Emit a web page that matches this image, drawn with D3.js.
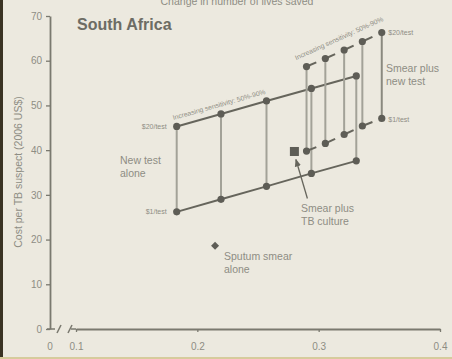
<!DOCTYPE html>
<html><head><meta charset="utf-8">
<script src="https://cdn.jsdelivr.net/npm/d3@7"></script>
<style>
html,body{margin:0;padding:0;background:#ECE9DF;}
svg{display:block;font-family:"Liberation Sans",Arial,sans-serif;}
</style></head><body>
<svg id="c" width="452" height="359"></svg>
<script>
// ---- data ----
const yTicks = [0,10,20,30,40,50,60,70];
const xTicks = [0.1,0.2,0.3,0.4];
const newTestX = [0.183,0.2195,0.257,0.294,0.331];
const newTest20 = [45.3,48.1,51.0,53.8,56.6];
const newTest1 = [26.2,29.0,31.9,34.8,37.6];
const smearNewX = [0.290,0.3055,0.321,0.336,0.352];
const smearNew20 = [58.7,60.5,62.4,64.3,66.3];
const smearNew1 = [39.8,41.5,43.5,45.4,47.1];
const smearCulture = [0.280,39.7];
const sputumSmear = [0.2146,18.6];

const svg = d3.select("#c");
const W=452,H=359;
svg.append("rect").attr("width",W).attr("height",H).attr("fill","#ECE9DF");
svg.append("rect").attr("x",0).attr("y",0).attr("width",3).attr("height",H).attr("fill","#3a3324");
svg.append("rect").attr("x",0).attr("y",357).attr("width",W).attr("height",2).attr("fill","#d6cb9c");

const y = d3.scaleLinear().domain([0,70]).range([329,16]);
const x = d3.scaleLinear().domain([0.1,0.4]).range([76,440]);
const xZero = 50;

const axisCol="#7a796f", textCol="#8e8d84", lineCol="#66655c", vCol="#a3a298", dotCol="#5e5d56";

// title (clipped at the top edge, as in the reference)
svg.append("text").attr("x",237).attr("y",5).attr("text-anchor","middle")
  .attr("font-size",10.5).attr("fill",textCol).text("Change in number of lives saved");

// y axis
const gy = svg.append("g").attr("transform",`translate(${xZero},0)`)
  .call(d3.axisLeft(y).tickValues(yTicks).tickSize(4).tickSizeOuter(0).tickPadding(4));
gy.select(".domain").attr("stroke",axisCol).attr("stroke-width",1.8);
gy.selectAll(".tick line").attr("stroke",axisCol).attr("stroke-width",1.3);
gy.selectAll(".tick text").attr("fill",textCol).attr("font-size",10).attr("font-family","Liberation Sans, Arial, sans-serif");

// x axis
const gx = svg.append("g").attr("transform",`translate(0,${y(0)})`)
  .call(d3.axisBottom(x).tickValues(xTicks).tickSize(3).tickSizeOuter(0).tickPadding(10.5).tickFormat(d3.format(".1f")));
gx.select(".domain").attr("stroke",axisCol).attr("stroke-width",1.8);
gx.selectAll(".tick line").attr("stroke",axisCol).attr("stroke-width",1.3);
gx.selectAll(".tick text").attr("fill",textCol).attr("font-size",10).attr("font-family","Liberation Sans, Arial, sans-serif");
// broken part near 0
const y0=y(0);
const brk = svg.append("g").attr("stroke",axisCol).attr("stroke-width",1.5).attr("fill","none");
brk.append("line").attr("x1",xZero-3).attr("x2",xZero+5).attr("y1",y0).attr("y2",y0);
brk.append("line").attr("x1",57).attr("x2",61).attr("y1",y0+4).attr("y2",y0-4);
brk.append("line").attr("x1",68).attr("x2",72).attr("y1",y0+4).attr("y2",y0-4);
brk.append("line").attr("x1",71).attr("x2",x(0.1)).attr("y1",y0).attr("y2",y0);
svg.append("text").attr("x",xZero).attr("y",y0+20.6).attr("text-anchor","middle")
  .attr("font-size",10).attr("fill",textCol).text("0");

// y label
svg.append("text").attr("transform",`translate(22,${172}) rotate(-90)`).attr("text-anchor","middle")
  .attr("font-size",10.5).attr("fill",textCol).text("Cost per TB suspect (2006 US$)");

// heading
svg.append("text").attr("x",77).attr("y",30).attr("font-size",16).attr("font-weight","bold")
  .attr("fill","#6d6c64").text("South Africa");

// ---- New test alone ----
const nt = newTestX.map((v,i)=>({x:v,hi:newTest20[i],lo:newTest1[i]}));
svg.append("g").selectAll("line").data(nt).join("line")
  .attr("x1",d=>x(d.x)).attr("x2",d=>x(d.x)).attr("y1",d=>y(d.hi)).attr("y2",d=>y(d.lo))
  .attr("stroke",vCol).attr("stroke-width",2);
const ln = d3.line().x(d=>x(d[0])).y(d=>y(d[1]));
svg.append("path").attr("d",ln(nt.map(d=>[d.x,d.hi]))).attr("fill","none").attr("stroke",lineCol).attr("stroke-width",2);
svg.append("path").attr("d",ln(nt.map(d=>[d.x,d.lo]))).attr("fill","none").attr("stroke",lineCol).attr("stroke-width",2);
svg.append("g").selectAll("circle").data(nt.flatMap(d=>[[d.x,d.hi],[d.x,d.lo]])).join("circle")
  .attr("cx",d=>x(d[0])).attr("cy",d=>y(d[1])).attr("r",3.6).attr("fill",dotCol);

// ---- Smear plus new test ----
const sn = smearNewX.map((v,i)=>({x:v,hi:smearNew20[i],lo:smearNew1[i]}));
svg.append("g").selectAll("line").data(sn).join("line")
  .attr("x1",d=>x(d.x)).attr("x2",d=>x(d.x)).attr("y1",d=>y(d.hi)).attr("y2",d=>y(d.lo))
  .attr("stroke",(d,i)=>i===sn.length-1?"#8a897f":vCol).attr("stroke-width",2);
["hi","lo"].forEach(k=>{
  const g = svg.append("g");
  for(let i=0;i<sn.length-1;i++){
    const a=sn[i], b=sn[i+1];
    const x1=x(a.x), y1=y(a[k]), x2=x(b.x), y2=y(b[k]);
    g.append("line").attr("x1",x1).attr("y1",y1)
      .attr("x2",x1+(x2-x1)*0.52).attr("y2",y1+(y2-y1)*0.52)
      .attr("stroke",lineCol).attr("stroke-width",2);
  }
});
svg.append("g").selectAll("circle").data(sn.flatMap(d=>[[d.x,d.hi],[d.x,d.lo]])).join("circle")
  .attr("cx",d=>x(d[0])).attr("cy",d=>y(d[1])).attr("r",3.6).attr("fill",dotCol);

// ---- single markers ----
svg.append("rect").attr("x",x(smearCulture[0])-4.5).attr("y",y(smearCulture[1])-4.5)
  .attr("width",9).attr("height",9).attr("fill",dotCol);
const sx=x(sputumSmear[0]), sy=y(sputumSmear[1]);
svg.append("path").attr("d",`M${sx},${sy-4}L${sx+4},${sy}L${sx},${sy+4}L${sx-4},${sy}Z`).attr("fill",dotCol);

// arrow
svg.append("defs").append("marker").attr("id","ah").attr("viewBox","0 0 10 10").attr("refX",9).attr("refY",5)
  .attr("markerWidth",6).attr("markerHeight",6).attr("orient","auto")
  .append("path").attr("d","M0,1L10,5L0,9Z").attr("fill",lineCol);
const cx=x(smearCulture[0]), cy=y(smearCulture[1]);
svg.append("line").attr("x1",cx+13).attr("y1",cy+47).attr("x2",cx+1.5).attr("y2",cy+8)
  .attr("stroke",lineCol).attr("stroke-width",1.3).attr("marker-end","url(#ah)");

// ---- labels ----
const small = (t,xp,yp,anchor)=>svg.append("text").attr("x",xp).attr("y",yp).attr("text-anchor",anchor||"start")
  .attr("font-size",7).attr("fill",textCol).text(t);
small("$20/test", x(newTestX[0])-10, y(newTest20[0])+2.5, "end");
small("$1/test", x(newTestX[0])-10, y(newTest1[0])+2.5, "end");
small("$20/test", x(smearNewX[4])+6.5, y(smearNew20[4])+2, "start");
small("$1/test", x(smearNewX[4])+6.5, y(smearNew1[4])+3.5, "start");

const lab = (lines,xp,yp)=>{
  const t = svg.append("text").attr("font-size",10.5).attr("fill",textCol);
  lines.forEach((s,i)=>t.append("tspan").attr("x",xp).attr("y",yp+i*12.5).text(s));
};
lab(["New test","alone"],120,164);
lab(["Smear plus","new test"],386,72);
lab(["Smear plus","TB culture"],301,212);
lab(["Sputum smear","alone"],224,260);

// rotated sensitivity labels
function rotLabel(xa,ya,xb,yb,off){
  const ang = Math.atan2(yb-ya,xb-xa)*180/Math.PI;
  const mx=(xa+xb)/2, my=(ya+yb)/2;
  svg.append("text").attr("transform",`translate(${mx},${my}) rotate(${ang}) translate(0,${-off})`)
    .attr("text-anchor","middle").attr("font-size",6.8).attr("fill",textCol)
    .attr("textLength",96).attr("lengthAdjust","spacingAndGlyphs")
    .text("Increasing sensitivity: 50%-90%");
}
rotLabel(x(newTestX[0]),y(newTest20[0]),x(newTestX[2]),y(newTest20[2]),7);
rotLabel(x(smearNewX[0]),y(smearNew20[0]),x(smearNewX[4]),y(smearNew20[4]),10);
</script>
</body></html>
